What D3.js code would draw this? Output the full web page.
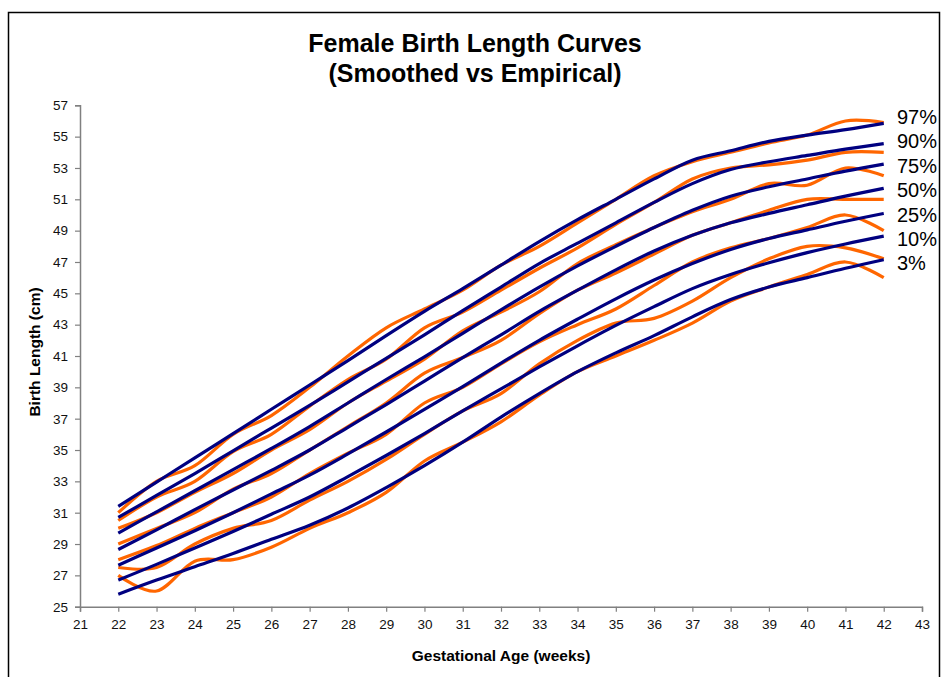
<!DOCTYPE html>
<html>
<head>
<meta charset="utf-8">
<script src="https://cdn.jsdelivr.net/npm/d3@7"></script>
<style>
  html, body { margin: 0; padding: 0; background: #fff; }
  svg { display: block; font-family: "Liberation Sans", Arial, sans-serif; }
</style>
</head>
<body>
<svg id="chart" width="943" height="677"></svg>
<script>
// ---- Data ----
const weeks = [22,23,24,25,26,27,28,29,30,31,32,33,34,35,36,37,38,39,40,41,42];
const percentiles = ["97%","90%","75%","50%","25%","10%","3%"];
const xTicks = [21,22,23,24,25,26,27,28,29,30,31,32,33,34,35,36,37,38,39,40,41,42,43];
const yTicks = [25,27,29,31,33,35,37,39,41,43,45,47,49,51,53,55,57];

// Smoothed curves (cm)
const s97 = [31.4,32.95,34.5,36.05,37.6,39.15,40.7,42.3,43.85,45.3,46.8,48.3,49.7,51.0,52.3,53.5,54.1,54.7,55.1,55.45,55.85];
const s90 = [30.7,32.1,33.5,34.95,36.4,37.85,39.35,40.85,42.35,43.9,45.4,46.9,48.2,49.5,50.8,52.0,52.9,53.4,53.8,54.2,54.55];
const s75 = [29.7,31.05,32.4,33.75,35.1,36.5,38.0,39.5,40.95,42.45,43.95,45.4,46.75,48.0,49.2,50.3,51.2,51.8,52.3,52.8,53.25];
const s50 = [28.65,29.9,31.2,32.45,33.7,35.0,36.45,37.9,39.4,40.9,42.35,43.85,45.2,46.5,47.7,48.7,49.5,50.1,50.65,51.2,51.7];
const s25 = [27.65,28.75,29.85,31.0,32.2,33.4,34.75,36.15,37.6,39.05,40.55,42.0,43.35,44.65,45.85,46.9,47.8,48.5,49.05,49.6,50.1];
const s10 = [26.7,27.7,28.75,29.8,30.9,32.0,33.3,34.65,36.05,37.5,38.9,40.3,41.65,42.95,44.15,45.3,46.2,46.95,47.6,48.15,48.65];
const s3  = [25.8,26.7,27.55,28.4,29.3,30.2,31.3,32.6,34.0,35.5,37.1,38.6,40.0,41.2,42.3,43.5,44.6,45.4,46.0,46.6,47.15];

// Empirical curves (cm)
const e97 = [31.0,33.0,34.0,36.0,37.2,39.0,41.0,42.8,44.0,45.2,46.8,48.0,49.5,51.0,52.5,53.4,54.0,54.6,55.1,56.0,55.9];
const e90 = [30.5,32.0,33.0,34.9,36.0,37.8,39.5,40.8,42.8,43.8,45.2,46.6,47.9,49.4,50.8,52.3,53.0,53.2,53.5,54.0,54.0];
const e75 = [30.0,31.0,32.3,33.5,35.0,36.3,38.0,39.4,40.8,42.6,43.8,45.1,46.9,48.1,49.2,50.2,51.0,52.0,51.9,53.0,52.5];
const e50 = [29.0,30.0,31.0,32.5,33.5,35.0,36.5,38.0,39.9,40.9,42.0,43.7,45.2,46.3,47.5,48.7,49.5,50.3,51.0,51.0,51.0];
const e25 = [28.0,28.9,30.0,31.0,32.0,33.5,34.8,36.0,38.0,39.0,40.5,41.9,43.0,44.0,45.5,47.0,47.9,48.5,49.2,50.0,49.0];
const e10 = [27.5,27.5,29.0,30.0,30.5,31.8,33.0,34.4,36.0,37.5,38.6,40.5,42.0,43.1,43.4,44.5,46.0,47.2,48.0,47.9,47.2];
const e3  = [27.0,26.0,27.9,28.0,28.8,30.0,31.0,32.3,34.3,35.5,36.8,38.5,40.0,41.0,42.0,43.1,44.5,45.4,46.2,47.0,46.0];

const smoothed = [s97,s90,s75,s50,s25,s10,s3];
const empirical = [e97,e90,e75,e50,e25,e10,e3];

// ---- Layout ----
const svg = d3.select("#chart");
const x = d3.scaleLinear().domain([21,43]).range([80,922]);
const y = d3.scaleLinear().domain([25,57]).range([606.7,105.3]);

// outer frame
svg.append("rect").attr("x",8.5).attr("y",12.5).attr("width",931).attr("height",700)
  .attr("fill","none").attr("stroke","#000").attr("stroke-width",1.5);

// title
svg.append("text").attr("x",475).attr("y",52).attr("text-anchor","middle")
  .attr("font-size",25).attr("font-weight","bold").attr("fill","#000")
  .text("Female Birth Length Curves");
svg.append("text").attr("x",475).attr("y",82).attr("text-anchor","middle")
  .attr("font-size",25).attr("font-weight","bold").attr("fill","#000")
  .text("(Smoothed vs Empirical)");

// axes
const xAxis = d3.axisBottom(x).tickValues(xTicks).tickSize(5).tickPadding(8).tickFormat(d3.format("d"));
const yAxis = d3.axisLeft(y).tickValues(yTicks).tickSize(5).tickPadding(7).tickFormat(d3.format("d"));

const gx = svg.append("g").attr("transform",`translate(0,${y(25)})`).call(xAxis);
const gy = svg.append("g").attr("transform",`translate(${x(21)},0)`).call(yAxis);
[gx,gy].forEach(g => {
  g.select(".domain").attr("stroke","#808080").attr("stroke-width",1.5);
  g.selectAll(".tick line").attr("stroke","#808080").attr("stroke-width",1.2);
  g.selectAll(".tick text").attr("font-size",13.5).attr("fill","#111")
    .attr("font-family","'Liberation Sans', Arial, sans-serif");
});

// axis titles
svg.append("text").attr("x",501).attr("y",661).attr("text-anchor","middle")
  .attr("font-size",15.5).attr("font-weight","bold").text("Gestational Age (weeks)");
svg.append("text").attr("transform","translate(40,352) rotate(-90)").attr("text-anchor","middle")
  .attr("font-size",15.5).attr("font-weight","bold").text("Birth Length (cm)");

// lines
const lineSmooth = d3.line().x((d,i)=>x(weeks[i])).y(d=>y(d)).curve(d3.curveMonotoneX);
const lineEmp = d3.line().x((d,i)=>x(weeks[i])).y(d=>y(d)).curve(d3.curveCardinal.tension(0));

svg.append("g").selectAll("path").data(empirical).join("path")
  .attr("d",lineEmp).attr("fill","none").attr("stroke","#FF6600").attr("stroke-width",3.2)
  .attr("stroke-linejoin","round");
svg.append("g").selectAll("path").data(smoothed).join("path")
  .attr("d",lineSmooth).attr("fill","none").attr("stroke","#000080").attr("stroke-width",3.2)
  .attr("stroke-linejoin","round");

// percentile labels
svg.append("g").selectAll("text").data(percentiles).join("text")
  .attr("x",897).attr("y",(d,i)=>124 + i*24.4)
  .attr("font-size",20).attr("fill","#000").text(d=>d);
</script>
</body>
</html>
